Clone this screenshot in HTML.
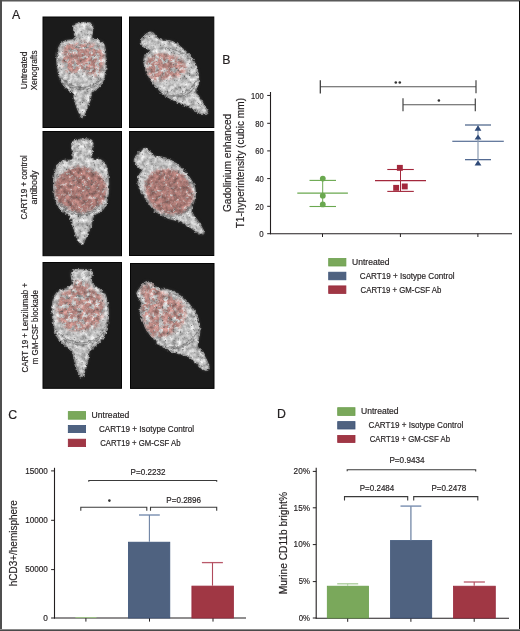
<!DOCTYPE html>
<html><head><meta charset="utf-8"><title>Figure</title>
<style>
html,body{margin:0;padding:0;background:#fff;}
body{width:520px;height:631px;overflow:hidden;}
svg{display:block;font-family:"Liberation Sans", sans-serif;will-change:transform;}
text{stroke:#231f20;stroke-width:0.18px;}
</style></head><body>
<svg width="520" height="631" viewBox="0 0 520 631">
<rect x="0" y="0" width="520" height="631" fill="#fff"/>
<defs>
<clipPath id="cpA">
<rect x="43.5" y="17.5" width="77.5" height="109.5"/><rect x="130" y="17.5" width="83.3" height="109.5"/>
<rect x="43.5" y="132" width="77.5" height="123.2"/><rect x="130" y="132" width="83.3" height="123"/>
<rect x="43.5" y="263" width="77.5" height="124.8"/><rect x="131" y="264" width="82.5" height="123.9"/>
</clipPath>
<filter color-interpolation-filters="sRGB" id="fin" x="-10%" y="-10%" width="120%" height="120%"><feGaussianBlur stdDeviation="0.6"/></filter>
<filter color-interpolation-filters="sRGB" id="halo" x="-20%" y="-20%" width="140%" height="140%"><feGaussianBlur stdDeviation="1.6"/></filter>
<filter color-interpolation-filters="sRGB" id="m1" x="-20%" y="-20%" width="140%" height="140%">
<feTurbulence type="fractalNoise" baseFrequency="0.22" numOctaves="3" seed="11" result="n"/>
<feColorMatrix in="n" type="matrix" values="0 0 0 0 0  0 0 0 0 0  0 0 0 0 0  -5 0 0 0 3.3" result="m"/>
<feGaussianBlur in="m" stdDeviation="0.5" result="mb"/>
<feGaussianBlur in="SourceGraphic" stdDeviation="1.5" result="b"/>
<feComposite in="b" in2="mb" operator="in"/>
</filter>
<filter color-interpolation-filters="sRGB" id="m2" x="-20%" y="-20%" width="140%" height="140%">
<feTurbulence type="fractalNoise" baseFrequency="0.3" numOctaves="3" seed="5" result="n"/>
<feColorMatrix in="n" type="matrix" values="0 0 0 0 0  0 0 0 0 0  0 0 0 0 0  -4 0 0 0 3.3" result="m"/>
<feGaussianBlur in="m" stdDeviation="0.5" result="mb"/>
<feGaussianBlur in="SourceGraphic" stdDeviation="1.3" result="b"/>
<feComposite in="b" in2="mb" operator="in"/>
</filter>
<filter color-interpolation-filters="sRGB" id="rough" x="-10%" y="-10%" width="120%" height="120%">
<feTurbulence type="fractalNoise" baseFrequency="0.35" numOctaves="2" seed="4" result="dn"/>
<feDisplacementMap in="SourceGraphic" in2="dn" scale="3.5" xChannelSelector="R" yChannelSelector="G" result="d"/>
<feTurbulence type="fractalNoise" baseFrequency="0.45" numOctaves="2" seed="9" result="n"/>
<feColorMatrix in="n" type="matrix" values="0 0 0 0 0.4  0 0 0 0 0.4  0 0 0 0 0.4  4.5 0 0 0 -2.95" result="sp"/>
<feComposite in="sp" in2="d" operator="in" result="sp2"/>
<feMerge result="mg"><feMergeNode in="d"/><feMergeNode in="sp2"/></feMerge>
<feTurbulence type="fractalNoise" baseFrequency="0.22" numOctaves="3" seed="21" result="g"/>
<feColorMatrix in="g" type="matrix" values="1 0 0 0 0  1 0 0 0 0  1 0 0 0 0  0 0 0 0 1" result="g2"/>
<feComposite in="mg" in2="g2" operator="arithmetic" k1="0.8" k2="0.6" k3="0" k4="0" result="gm"/>
<feComposite in="gm" in2="mg" operator="in"/>
</filter>
</defs>
<text x="12.0" y="18.7" font-size="12.3" fill="#231f20" text-anchor="start" >A</text>
<rect x="43.0" y="17.0" width="78.5" height="110.5" fill="#1b1b1b" stroke="#050505" stroke-width="1"/>
<rect x="129.5" y="17.0" width="84.30000000000001" height="110.5" fill="#1b1b1b" stroke="#050505" stroke-width="1"/>
<rect x="43.0" y="131.5" width="78.5" height="124.19999999999999" fill="#1b1b1b" stroke="#050505" stroke-width="1"/>
<rect x="129.5" y="131.5" width="84.30000000000001" height="124" fill="#1b1b1b" stroke="#050505" stroke-width="1"/>
<rect x="43.0" y="262.5" width="78.5" height="125.80000000000001" fill="#1b1b1b" stroke="#050505" stroke-width="1"/>
<rect x="130.5" y="263.5" width="83.5" height="124.89999999999998" fill="#1b1b1b" stroke="#050505" stroke-width="1"/>
<g clip-path="url(#cpA)">
<path d="M74.6,24.5 C77.5,22.1 89.0,21.6 91.9,23.8 C94.8,26.0 90.8,34.9 91.9,37.7 C93.1,40.5 96.8,39.4 98.8,40.5 C100.8,41.6 102.8,42.2 104.0,44.6 C105.2,47.0 105.5,51.0 105.8,55.0 C106.1,59.0 106.3,64.5 105.8,68.8 C105.3,73.1 104.5,77.7 103.0,81.0 C101.5,84.3 98.9,87.0 97.1,88.9 C95.2,90.8 93.1,90.6 91.9,92.4 C90.8,94.2 91.2,97.0 90.2,100.0 C89.2,103.0 87.3,107.4 86.0,110.4 C84.7,113.4 83.5,118.0 82.2,118.0 C80.9,118.0 79.4,113.4 78.1,110.4 C76.8,107.4 75.5,103.0 74.6,100.0 C73.7,97.0 74.3,94.4 72.9,92.4 C71.5,90.4 68.1,90.1 66.0,87.9 C63.9,85.7 61.6,82.7 60.1,79.2 C58.6,75.7 57.8,71.4 57.3,67.1 C56.8,62.8 56.8,57.0 57.3,53.3 C57.8,49.5 58.6,46.7 60.1,44.6 C61.6,42.5 63.6,41.5 66.0,40.5 C68.4,39.5 73.2,41.1 74.6,38.4 C76.0,35.7 71.7,26.9 74.6,24.5 Z" fill="#4a4a4a" filter="url(#halo)"/>
<g filter="url(#fin)"><g filter="url(#rough)"><path d="M74.6,24.5 C77.5,22.1 89.0,21.6 91.9,23.8 C94.8,26.0 90.8,34.9 91.9,37.7 C93.1,40.5 96.8,39.4 98.8,40.5 C100.8,41.6 102.8,42.2 104.0,44.6 C105.2,47.0 105.5,51.0 105.8,55.0 C106.1,59.0 106.3,64.5 105.8,68.8 C105.3,73.1 104.5,77.7 103.0,81.0 C101.5,84.3 98.9,87.0 97.1,88.9 C95.2,90.8 93.1,90.6 91.9,92.4 C90.8,94.2 91.2,97.0 90.2,100.0 C89.2,103.0 87.3,107.4 86.0,110.4 C84.7,113.4 83.5,118.0 82.2,118.0 C80.9,118.0 79.4,113.4 78.1,110.4 C76.8,107.4 75.5,103.0 74.6,100.0 C73.7,97.0 74.3,94.4 72.9,92.4 C71.5,90.4 68.1,90.1 66.0,87.9 C63.9,85.7 61.6,82.7 60.1,79.2 C58.6,75.7 57.8,71.4 57.3,67.1 C56.8,62.8 56.8,57.0 57.3,53.3 C57.8,49.5 58.6,46.7 60.1,44.6 C61.6,42.5 63.6,41.5 66.0,40.5 C68.4,39.5 73.2,41.1 74.6,38.4 C76.0,35.7 71.7,26.9 74.6,24.5 Z" fill="#c3c3c3" stroke="#8c8c8c" stroke-width="1.6"/><path d="M61,78 Q82,97 103,78" fill="none" stroke="#7a7a7a" stroke-width="1.3" opacity="0.75"/><path d="M66,84 Q82,95 98,84" fill="none" stroke="#7a7a7a" stroke-width="1.3" opacity="0.75"/><path d="M70,50 Q82,44 95,50" fill="none" stroke="#7a7a7a" stroke-width="1.3" opacity="0.75"/><path d="M66.0,44.0 C67.8,42.7 71.7,44.5 74.0,44.0 C76.3,43.5 77.7,41.2 80.0,41.0 C82.3,40.8 85.3,42.3 88.0,43.0 C90.7,43.7 93.7,43.7 96.0,45.0 C98.3,46.3 100.7,48.5 102.0,51.0 C103.3,53.5 104.0,57.2 104.0,60.0 C104.0,62.8 103.0,65.3 102.0,68.0 C101.0,70.7 100.0,75.0 98.0,76.0 C96.0,77.0 92.7,75.0 90.0,74.0 C87.3,73.0 84.7,70.2 82.0,70.0 C79.3,69.8 76.7,72.8 74.0,73.0 C71.3,73.2 67.9,72.8 66.0,71.0 C64.1,69.2 63.0,65.2 62.5,62.0 C62.0,58.8 62.4,55.0 63.0,52.0 C63.6,49.0 64.2,45.3 66.0,44.0 Z" fill="#b5807a" opacity="0.9" filter="url(#m1)"/></g></g>
<path d="M152.5,32.5 C154.7,33.4 156.2,37.9 159.4,39.4 C162.6,40.9 167.8,39.8 171.5,41.2 C175.2,42.7 178.4,45.2 181.9,48.1 C185.4,51.0 189.7,54.8 192.3,58.5 C194.9,62.2 196.5,66.6 197.5,70.6 C198.5,74.6 198.8,79.2 198.5,82.7 C198.2,86.2 195.4,88.4 195.8,91.3 C196.2,94.2 199.3,97.1 201.0,100.0 C202.7,102.9 204.9,106.4 206.1,108.6 C207.2,110.8 208.8,112.2 207.9,113.1 C207.1,114.0 204.2,114.8 201.0,113.8 C197.8,112.8 192.9,108.9 188.8,106.9 C184.8,104.9 180.7,103.7 176.7,101.7 C172.7,99.7 168.3,97.7 164.6,94.8 C160.8,91.9 157.1,87.9 154.2,84.4 C151.3,80.9 149.0,77.8 147.3,74.0 C145.6,70.2 144.2,65.0 143.8,61.9 C143.5,58.8 144.2,57.3 145.2,55.5 C146.2,53.7 150.4,52.6 150.0,51.0 C149.6,49.4 144.2,47.8 142.8,46.0 C141.4,44.2 141.0,42.0 141.6,40.0 C142.2,38.0 144.7,35.0 146.5,33.8 C148.3,32.5 150.3,31.6 152.5,32.5 Z" fill="#4a4a4a" filter="url(#halo)"/>
<g filter="url(#fin)"><g filter="url(#rough)"><path d="M152.5,32.5 C154.7,33.4 156.2,37.9 159.4,39.4 C162.6,40.9 167.8,39.8 171.5,41.2 C175.2,42.7 178.4,45.2 181.9,48.1 C185.4,51.0 189.7,54.8 192.3,58.5 C194.9,62.2 196.5,66.6 197.5,70.6 C198.5,74.6 198.8,79.2 198.5,82.7 C198.2,86.2 195.4,88.4 195.8,91.3 C196.2,94.2 199.3,97.1 201.0,100.0 C202.7,102.9 204.9,106.4 206.1,108.6 C207.2,110.8 208.8,112.2 207.9,113.1 C207.1,114.0 204.2,114.8 201.0,113.8 C197.8,112.8 192.9,108.9 188.8,106.9 C184.8,104.9 180.7,103.7 176.7,101.7 C172.7,99.7 168.3,97.7 164.6,94.8 C160.8,91.9 157.1,87.9 154.2,84.4 C151.3,80.9 149.0,77.8 147.3,74.0 C145.6,70.2 144.2,65.0 143.8,61.9 C143.5,58.8 144.2,57.3 145.2,55.5 C146.2,53.7 150.4,52.6 150.0,51.0 C149.6,49.4 144.2,47.8 142.8,46.0 C141.4,44.2 141.0,42.0 141.6,40.0 C142.2,38.0 144.7,35.0 146.5,33.8 C148.3,32.5 150.3,31.6 152.5,32.5 Z" fill="#c3c3c3" stroke="#8c8c8c" stroke-width="1.6"/><path d="M158,93 Q184,102 197,80" fill="none" stroke="#7a7a7a" stroke-width="1.3" opacity="0.75"/><path d="M164,96 Q186,100 194,88" fill="none" stroke="#7a7a7a" stroke-width="1.3" opacity="0.75"/><path d="M165,48 Q185,50 192,62" fill="none" stroke="#7a7a7a" stroke-width="1.3" opacity="0.75"/><path d="M150.0,57.0 C152.2,55.5 156.3,53.3 160.0,53.0 C163.7,52.7 168.3,53.8 172.0,55.0 C175.7,56.2 179.7,58.0 182.0,60.0 C184.3,62.0 185.7,64.7 186.0,67.0 C186.3,69.3 185.7,72.3 184.0,74.0 C182.3,75.7 179.0,76.2 176.0,77.0 C173.0,77.8 169.2,78.3 166.0,79.0 C162.8,79.7 159.7,81.2 157.0,81.0 C154.3,80.8 151.7,79.8 150.0,78.0 C148.3,76.2 147.5,72.7 147.0,70.0 C146.5,67.3 146.5,64.2 147.0,62.0 C147.5,59.8 147.8,58.5 150.0,57.0 Z" fill="#b5807a" opacity="0.9" filter="url(#m1)"/></g></g>
<path d="M72.9,141.6 C76.1,138.5 88.7,137.9 91.9,140.6 C95.1,143.3 90.5,154.7 91.9,157.9 C93.4,161.1 98.3,158.4 100.6,159.6 C102.9,160.8 104.5,161.9 105.8,164.8 C107.1,167.7 107.8,172.6 108.2,176.9 C108.7,181.2 108.9,186.2 108.5,190.8 C108.1,195.4 107.1,201.2 105.8,204.6 C104.5,208.0 102.6,209.7 100.6,211.5 C98.6,213.3 95.3,213.4 93.7,215.7 C92.1,218.0 92.4,222.1 91.2,225.4 C90.0,228.8 88.3,232.6 86.7,235.8 C85.1,239.0 83.2,244.4 81.5,244.4 C79.8,244.4 77.7,239.0 76.3,235.8 C74.9,232.6 74.1,228.8 72.9,225.4 C71.8,222.1 71.4,218.3 69.4,215.7 C67.4,213.1 63.1,212.5 60.8,209.8 C58.5,207.1 56.8,203.2 55.6,199.4 C54.4,195.7 54.0,191.6 53.8,187.3 C53.6,183.0 53.9,177.2 54.5,173.5 C55.1,169.8 55.7,167.0 57.3,164.8 C58.9,162.6 61.6,161.3 64.2,160.3 C66.8,159.3 71.5,162.0 72.9,158.9 C74.4,155.8 69.7,144.7 72.9,141.6 Z" fill="#4a4a4a" filter="url(#halo)"/>
<g filter="url(#fin)"><g filter="url(#rough)"><path d="M72.9,141.6 C76.1,138.5 88.7,137.9 91.9,140.6 C95.1,143.3 90.5,154.7 91.9,157.9 C93.4,161.1 98.3,158.4 100.6,159.6 C102.9,160.8 104.5,161.9 105.8,164.8 C107.1,167.7 107.8,172.6 108.2,176.9 C108.7,181.2 108.9,186.2 108.5,190.8 C108.1,195.4 107.1,201.2 105.8,204.6 C104.5,208.0 102.6,209.7 100.6,211.5 C98.6,213.3 95.3,213.4 93.7,215.7 C92.1,218.0 92.4,222.1 91.2,225.4 C90.0,228.8 88.3,232.6 86.7,235.8 C85.1,239.0 83.2,244.4 81.5,244.4 C79.8,244.4 77.7,239.0 76.3,235.8 C74.9,232.6 74.1,228.8 72.9,225.4 C71.8,222.1 71.4,218.3 69.4,215.7 C67.4,213.1 63.1,212.5 60.8,209.8 C58.5,207.1 56.8,203.2 55.6,199.4 C54.4,195.7 54.0,191.6 53.8,187.3 C53.6,183.0 53.9,177.2 54.5,173.5 C55.1,169.8 55.7,167.0 57.3,164.8 C58.9,162.6 61.6,161.3 64.2,160.3 C66.8,159.3 71.5,162.0 72.9,158.9 C74.4,155.8 69.7,144.7 72.9,141.6 Z" fill="#c3c3c3" stroke="#8c8c8c" stroke-width="1.6"/><path d="M58,203 Q81,223 104,203" fill="none" stroke="#7a7a7a" stroke-width="1.3" opacity="0.75"/><path d="M63,209 Q81,221 99,209" fill="none" stroke="#7a7a7a" stroke-width="1.3" opacity="0.75"/><path d="M106.2,189.4 C106.2,192.8 106.0,196.6 104.4,199.5 C102.7,202.4 99.3,204.7 96.3,206.7 C93.3,208.8 90.0,211.1 86.5,211.9 C82.9,212.7 78.6,212.3 75.0,211.4 C71.5,210.5 68.2,208.5 65.3,206.5 C62.3,204.5 58.9,202.3 57.3,199.4 C55.6,196.5 55.2,192.8 55.2,189.4 C55.2,186.0 55.4,182.2 57.0,179.3 C58.7,176.4 62.1,174.1 65.1,172.1 C68.1,170.0 71.4,167.7 74.9,166.9 C78.5,166.1 82.8,166.5 86.4,167.4 C89.9,168.3 93.2,170.3 96.1,172.3 C99.1,174.3 102.5,176.5 104.1,179.4 C105.8,182.3 106.2,186.0 106.2,189.4 Z" fill="#a46f6a" opacity="0.9" filter="url(#m2)"/></g></g>
<path d="M145.8,148.3 C148.4,148.7 151.2,154.3 154.1,155.8 C157.0,157.3 160.1,156.5 163.3,157.5 C166.5,158.5 170.2,159.8 173.3,161.6 C176.4,163.4 178.8,165.5 181.6,168.3 C184.4,171.1 187.7,175.0 189.9,178.3 C192.1,181.6 194.1,185.0 194.9,188.3 C195.7,191.6 195.5,194.9 194.9,198.2 C194.3,201.5 191.9,205.4 191.6,208.2 C191.3,211.0 192.1,212.7 193.2,214.9 C194.3,217.1 196.4,218.6 198.2,221.5 C200.0,224.4 203.7,230.2 204.0,232.3 C204.3,234.4 202.0,234.7 199.9,234.0 C197.8,233.3 194.9,230.3 191.6,228.2 C188.3,226.1 183.8,223.2 179.9,221.5 C176.0,219.8 171.9,219.6 168.3,218.2 C164.7,216.8 161.4,215.4 158.3,213.2 C155.2,211.0 152.5,207.9 150.0,204.9 C147.5,201.9 145.2,198.2 143.3,194.9 C141.4,191.6 139.1,188.0 138.3,184.9 C137.5,181.8 137.8,178.9 138.3,176.6 C138.9,174.2 141.9,172.7 141.6,170.8 C141.3,168.9 137.9,166.8 136.7,165.0 C135.5,163.2 133.9,161.9 134.2,160.0 C134.5,158.1 136.4,155.2 138.3,153.3 C140.2,151.4 143.2,147.9 145.8,148.3 Z" fill="#4a4a4a" filter="url(#halo)"/>
<g filter="url(#fin)"><g filter="url(#rough)"><path d="M145.8,148.3 C148.4,148.7 151.2,154.3 154.1,155.8 C157.0,157.3 160.1,156.5 163.3,157.5 C166.5,158.5 170.2,159.8 173.3,161.6 C176.4,163.4 178.8,165.5 181.6,168.3 C184.4,171.1 187.7,175.0 189.9,178.3 C192.1,181.6 194.1,185.0 194.9,188.3 C195.7,191.6 195.5,194.9 194.9,198.2 C194.3,201.5 191.9,205.4 191.6,208.2 C191.3,211.0 192.1,212.7 193.2,214.9 C194.3,217.1 196.4,218.6 198.2,221.5 C200.0,224.4 203.7,230.2 204.0,232.3 C204.3,234.4 202.0,234.7 199.9,234.0 C197.8,233.3 194.9,230.3 191.6,228.2 C188.3,226.1 183.8,223.2 179.9,221.5 C176.0,219.8 171.9,219.6 168.3,218.2 C164.7,216.8 161.4,215.4 158.3,213.2 C155.2,211.0 152.5,207.9 150.0,204.9 C147.5,201.9 145.2,198.2 143.3,194.9 C141.4,191.6 139.1,188.0 138.3,184.9 C137.5,181.8 137.8,178.9 138.3,176.6 C138.9,174.2 141.9,172.7 141.6,170.8 C141.3,168.9 137.9,166.8 136.7,165.0 C135.5,163.2 133.9,161.9 134.2,160.0 C134.5,158.1 136.4,155.2 138.3,153.3 C140.2,151.4 143.2,147.9 145.8,148.3 Z" fill="#c3c3c3" stroke="#8c8c8c" stroke-width="1.6"/><path d="M153,211 Q181,223 195,200" fill="none" stroke="#7a7a7a" stroke-width="1.3" opacity="0.75"/><path d="M160,215 Q183,220 192,206" fill="none" stroke="#7a7a7a" stroke-width="1.3" opacity="0.75"/><path d="M189.5,205.9 C187.7,208.6 185.4,211.5 182.5,212.8 C179.6,214.1 175.5,214.0 172.0,213.9 C168.5,213.9 164.6,213.8 161.3,212.4 C158.1,211.1 154.7,208.3 152.4,205.7 C150.0,203.0 148.5,199.6 147.2,196.3 C145.9,193.1 144.5,189.4 144.7,186.3 C144.9,183.1 146.7,179.9 148.5,177.3 C150.3,174.6 152.6,171.7 155.5,170.4 C158.4,169.1 162.5,169.2 166.0,169.3 C169.5,169.3 173.4,169.4 176.7,170.8 C179.9,172.1 183.3,174.9 185.6,177.5 C188.0,180.2 189.5,183.6 190.8,186.9 C192.1,190.1 193.5,193.8 193.3,196.9 C193.1,200.1 191.3,203.3 189.5,205.9 Z" fill="#a46f6a" opacity="0.9" filter="url(#m2)"/></g></g>
<path d="M72.2,271.1 C75.4,268.9 88.2,269.2 91.4,271.1 C94.6,273.0 89.9,279.0 91.4,282.2 C92.9,285.4 98.1,288.0 100.4,290.2 C102.8,292.4 104.2,291.5 105.5,295.2 C106.8,298.9 108.3,306.8 108.5,312.4 C108.7,317.9 107.5,324.1 106.5,328.5 C105.5,332.9 104.5,335.6 102.5,338.6 C100.5,341.6 96.6,344.6 94.4,346.6 C92.2,348.6 90.6,348.0 89.4,350.7 C88.2,353.4 88.7,358.3 87.3,362.8 C85.9,367.3 83.3,377.9 81.3,377.9 C79.3,377.9 76.7,367.2 75.2,362.8 C73.7,358.4 74.0,354.7 72.2,351.7 C70.4,348.7 66.7,347.1 64.2,344.6 C61.7,342.1 58.8,339.6 57.1,336.6 C55.4,333.6 54.9,330.5 54.1,326.5 C53.3,322.5 52.3,316.8 52.1,312.4 C51.9,308.0 52.3,303.7 53.1,300.3 C53.9,296.9 55.2,294.1 57.1,292.2 C59.0,290.3 61.7,290.5 64.2,289.2 C66.7,287.9 70.9,287.2 72.2,284.2 C73.5,281.2 69.0,273.3 72.2,271.1 Z" fill="#4a4a4a" filter="url(#halo)"/>
<g filter="url(#fin)"><g filter="url(#rough)"><path d="M72.2,271.1 C75.4,268.9 88.2,269.2 91.4,271.1 C94.6,273.0 89.9,279.0 91.4,282.2 C92.9,285.4 98.1,288.0 100.4,290.2 C102.8,292.4 104.2,291.5 105.5,295.2 C106.8,298.9 108.3,306.8 108.5,312.4 C108.7,317.9 107.5,324.1 106.5,328.5 C105.5,332.9 104.5,335.6 102.5,338.6 C100.5,341.6 96.6,344.6 94.4,346.6 C92.2,348.6 90.6,348.0 89.4,350.7 C88.2,353.4 88.7,358.3 87.3,362.8 C85.9,367.3 83.3,377.9 81.3,377.9 C79.3,377.9 76.7,367.2 75.2,362.8 C73.7,358.4 74.0,354.7 72.2,351.7 C70.4,348.7 66.7,347.1 64.2,344.6 C61.7,342.1 58.8,339.6 57.1,336.6 C55.4,333.6 54.9,330.5 54.1,326.5 C53.3,322.5 52.3,316.8 52.1,312.4 C51.9,308.0 52.3,303.7 53.1,300.3 C53.9,296.9 55.2,294.1 57.1,292.2 C59.0,290.3 61.7,290.5 64.2,289.2 C66.7,287.9 70.9,287.2 72.2,284.2 C73.5,281.2 69.0,273.3 72.2,271.1 Z" fill="#c3c3c3" stroke="#8c8c8c" stroke-width="1.6"/><path d="M58,333 Q81,353 104,333" fill="none" stroke="#7a7a7a" stroke-width="1.3" opacity="0.75"/><path d="M63,339 Q81,351 99,339" fill="none" stroke="#7a7a7a" stroke-width="1.3" opacity="0.75"/><path d="M62,300 Q80,292 100,300" fill="none" stroke="#7a7a7a" stroke-width="1.3" opacity="0.75"/><path d="M76.0,281.5 C78.3,280.3 83.3,280.8 86.0,282.0 C88.7,283.2 89.7,287.0 92.0,289.0 C94.3,291.0 98.1,291.3 100.0,294.0 C101.9,296.7 103.2,301.0 103.5,305.0 C103.8,309.0 103.2,314.3 102.0,318.0 C100.8,321.7 98.7,325.0 96.0,327.0 C93.3,329.0 89.7,329.3 86.0,330.0 C82.3,330.7 77.7,331.5 74.0,331.0 C70.3,330.5 66.7,329.2 64.0,327.0 C61.3,324.8 59.1,321.8 58.0,318.0 C56.9,314.2 56.8,308.2 57.5,304.0 C58.2,299.8 59.6,295.5 62.0,293.0 C64.4,290.5 69.7,290.9 72.0,289.0 C74.3,287.1 73.7,282.7 76.0,281.5 Z" fill="#b5807a" opacity="0.9" filter="url(#m1)"/></g></g>
<path d="M146.6,281.6 C149.5,280.8 152.6,285.4 155.0,286.6 C157.4,287.9 158.3,288.5 160.8,289.1 C163.3,289.7 166.7,289.0 169.9,290.0 C173.1,291.0 176.9,292.8 179.9,295.0 C182.9,297.2 185.7,300.5 188.2,303.3 C190.7,306.1 193.2,308.8 194.9,311.6 C196.6,314.4 197.4,316.8 198.2,319.9 C199.0,322.9 199.9,326.6 199.9,329.9 C199.9,333.2 198.6,337.1 198.2,339.9 C197.8,342.7 196.8,344.6 197.4,346.5 C198.0,348.4 200.0,349.3 201.5,351.5 C203.0,353.7 205.2,357.0 206.5,359.9 C207.8,362.8 209.6,367.4 209.0,369.0 C208.4,370.6 205.3,370.8 203.2,369.8 C201.1,368.8 199.1,365.4 196.6,363.2 C194.1,361.0 191.2,358.2 188.2,356.5 C185.1,354.8 181.6,354.3 178.3,353.2 C175.0,352.1 171.4,351.3 168.3,349.9 C165.2,348.5 162.5,346.8 160.0,344.9 C157.5,342.9 155.5,340.7 153.3,338.2 C151.1,335.7 148.4,332.9 146.6,329.9 C144.8,326.8 143.6,322.9 142.5,319.9 C141.4,316.8 140.2,314.4 140.0,311.6 C139.8,308.8 141.6,305.2 141.6,303.3 C141.6,301.4 140.7,301.4 140.0,300.0 C139.3,298.6 137.9,296.4 137.5,295.0 C137.1,293.6 136.0,293.8 137.5,291.6 C139.0,289.4 143.7,282.4 146.6,281.6 Z" fill="#4a4a4a" filter="url(#halo)"/>
<g filter="url(#fin)"><g filter="url(#rough)"><path d="M146.6,281.6 C149.5,280.8 152.6,285.4 155.0,286.6 C157.4,287.9 158.3,288.5 160.8,289.1 C163.3,289.7 166.7,289.0 169.9,290.0 C173.1,291.0 176.9,292.8 179.9,295.0 C182.9,297.2 185.7,300.5 188.2,303.3 C190.7,306.1 193.2,308.8 194.9,311.6 C196.6,314.4 197.4,316.8 198.2,319.9 C199.0,322.9 199.9,326.6 199.9,329.9 C199.9,333.2 198.6,337.1 198.2,339.9 C197.8,342.7 196.8,344.6 197.4,346.5 C198.0,348.4 200.0,349.3 201.5,351.5 C203.0,353.7 205.2,357.0 206.5,359.9 C207.8,362.8 209.6,367.4 209.0,369.0 C208.4,370.6 205.3,370.8 203.2,369.8 C201.1,368.8 199.1,365.4 196.6,363.2 C194.1,361.0 191.2,358.2 188.2,356.5 C185.1,354.8 181.6,354.3 178.3,353.2 C175.0,352.1 171.4,351.3 168.3,349.9 C165.2,348.5 162.5,346.8 160.0,344.9 C157.5,342.9 155.5,340.7 153.3,338.2 C151.1,335.7 148.4,332.9 146.6,329.9 C144.8,326.8 143.6,322.9 142.5,319.9 C141.4,316.8 140.2,314.4 140.0,311.6 C139.8,308.8 141.6,305.2 141.6,303.3 C141.6,301.4 140.7,301.4 140.0,300.0 C139.3,298.6 137.9,296.4 137.5,295.0 C137.1,293.6 136.0,293.8 137.5,291.6 C139.0,289.4 143.7,282.4 146.6,281.6 Z" fill="#c3c3c3" stroke="#8c8c8c" stroke-width="1.6"/><path d="M156,344 Q184,354 198,331" fill="none" stroke="#7a7a7a" stroke-width="1.3" opacity="0.75"/><path d="M163,347 Q185,352 195,338" fill="none" stroke="#7a7a7a" stroke-width="1.3" opacity="0.75"/><path d="M168,292 Q186,297 193,309" fill="none" stroke="#7a7a7a" stroke-width="1.3" opacity="0.75"/><path d="M147.0,284.0 C149.3,283.7 152.5,285.7 155.0,287.0 C157.5,288.3 159.2,290.5 162.0,292.0 C164.8,293.5 168.7,294.2 172.0,296.0 C175.3,297.8 179.7,300.3 182.0,303.0 C184.3,305.7 185.7,308.8 186.0,312.0 C186.3,315.2 185.7,319.0 184.0,322.0 C182.3,325.0 179.0,327.7 176.0,330.0 C173.0,332.3 169.3,334.7 166.0,336.0 C162.7,337.3 159.0,338.7 156.0,338.0 C153.0,337.3 150.0,335.0 148.0,332.0 C146.0,329.0 145.0,324.0 144.0,320.0 C143.0,316.0 142.3,312.0 142.0,308.0 C141.7,304.0 142.2,299.2 142.0,296.0 C141.8,292.8 140.2,291.0 141.0,289.0 C141.8,287.0 144.7,284.3 147.0,284.0 Z" fill="#b5807a" opacity="0.9" filter="url(#m1)"/></g></g>
</g>
<text transform="translate(27.3,89.2) rotate(-90)" x="0" y="0" font-size="8.8" fill="#231f20" textLength="37.6" lengthAdjust="spacingAndGlyphs">Untreated</text>
<text transform="translate(36.9,90.3) rotate(-90)" x="0" y="0" font-size="8.8" fill="#231f20" textLength="39.8" lengthAdjust="spacingAndGlyphs">Xenografts</text>
<text transform="translate(26.6,219.6) rotate(-90)" x="0" y="0" font-size="8.8" fill="#231f20" textLength="64.3" lengthAdjust="spacingAndGlyphs">CART19 + control</text>
<text transform="translate(36.8,204.6) rotate(-90)" x="0" y="0" font-size="8.8" fill="#231f20" textLength="34.0" lengthAdjust="spacingAndGlyphs">antibody</text>
<text transform="translate(27.5,372.5) rotate(-90)" x="0" y="0" font-size="8.8" fill="#231f20" textLength="89.6" lengthAdjust="spacingAndGlyphs">CART 19 + Lenzilumab +</text>
<text transform="translate(37.8,364.3) rotate(-90)" x="0" y="0" font-size="8.8" fill="#231f20" textLength="74.1" lengthAdjust="spacingAndGlyphs">m GM-CSF blockade</text>
<text x="222.2" y="63.75" font-size="12.3" fill="#231f20" text-anchor="start" >B</text>
<line x1="270.5" y1="92" x2="270.5" y2="234.2" stroke="#231f20" stroke-width="1.1" />
<line x1="270" y1="233.7" x2="512" y2="233.7" stroke="#231f20" stroke-width="1.1" />
<line x1="267.2" y1="95.45" x2="270.5" y2="95.45" stroke="#231f20" stroke-width="1" />
<text x="251.00000000000003" y="98.95" font-size="9.0" fill="#231f20" text-anchor="start" textLength="12.6" lengthAdjust="spacingAndGlyphs" >100</text>
<line x1="267.2" y1="123.3" x2="270.5" y2="123.3" stroke="#231f20" stroke-width="1" />
<text x="255.20000000000002" y="126.8" font-size="9.0" fill="#231f20" text-anchor="start" textLength="8.4" lengthAdjust="spacingAndGlyphs" >80</text>
<line x1="267.2" y1="150.9" x2="270.5" y2="150.9" stroke="#231f20" stroke-width="1" />
<text x="255.20000000000002" y="154.4" font-size="9.0" fill="#231f20" text-anchor="start" textLength="8.4" lengthAdjust="spacingAndGlyphs" >60</text>
<line x1="267.2" y1="178.6" x2="270.5" y2="178.6" stroke="#231f20" stroke-width="1" />
<text x="255.20000000000002" y="182.1" font-size="9.0" fill="#231f20" text-anchor="start" textLength="8.4" lengthAdjust="spacingAndGlyphs" >40</text>
<line x1="267.2" y1="206.3" x2="270.5" y2="206.3" stroke="#231f20" stroke-width="1" />
<text x="255.20000000000002" y="209.8" font-size="9.0" fill="#231f20" text-anchor="start" textLength="8.4" lengthAdjust="spacingAndGlyphs" >20</text>
<line x1="267.2" y1="233.7" x2="270.5" y2="233.7" stroke="#231f20" stroke-width="1" />
<text x="259.20000000000005" y="237.2" font-size="9.0" fill="#231f20" text-anchor="start" textLength="4.4" lengthAdjust="spacingAndGlyphs" >0</text>
<line x1="322.5" y1="233.7" x2="322.5" y2="237" stroke="#231f20" stroke-width="1" />
<line x1="400.4" y1="233.7" x2="400.4" y2="237" stroke="#231f20" stroke-width="1" />
<line x1="477.9" y1="233.7" x2="477.9" y2="237" stroke="#231f20" stroke-width="1" />
<text transform="translate(231.0,212.0) rotate(-90)" x="0" y="0" font-size="10.6" fill="#231f20" textLength="98.2" lengthAdjust="spacingAndGlyphs">Gadolinium enhanced</text>
<text transform="translate(244.0,228.3) rotate(-90)" x="0" y="0" font-size="10.6" fill="#231f20" textLength="130.3" lengthAdjust="spacingAndGlyphs">T1-hyperintensity (cubic mm)</text>
<line x1="297.3" y1="193.1" x2="347.9" y2="193.1" stroke="#6aa84f" stroke-width="1.1" />
<line x1="309.5" y1="180.4" x2="336" y2="180.4" stroke="#6aa84f" stroke-width="1.1" />
<line x1="309.5" y1="206.5" x2="336" y2="206.5" stroke="#6aa84f" stroke-width="1.1" />
<line x1="322.7" y1="180.4" x2="322.7" y2="206.5" stroke="#6aa84f" stroke-width="1.0" />
<circle cx="322.8" cy="178.6" r="2.9" fill="#6aa84f"/>
<circle cx="322.8" cy="195.7" r="2.9" fill="#6aa84f"/>
<circle cx="322.8" cy="204.4" r="2.9" fill="#6aa84f"/>
<line x1="375" y1="180.6" x2="426" y2="180.6" stroke="#a3283c" stroke-width="1.1" />
<line x1="387.3" y1="169.5" x2="413.8" y2="169.5" stroke="#a3283c" stroke-width="1.1" />
<line x1="387.3" y1="191.4" x2="413.8" y2="191.4" stroke="#a3283c" stroke-width="1.1" />
<line x1="400.5" y1="169.5" x2="400.5" y2="191.4" stroke="#a3283c" stroke-width="1.0" />
<rect x="396.9" y="164.9" width="5.9" height="5.9" fill="#a3283c"/>
<rect x="393.2" y="184.9" width="5.9" height="5.9" fill="#a3283c"/>
<rect x="401.8" y="183.5" width="5.9" height="5.9" fill="#a3283c"/>
<line x1="452.3" y1="141.2" x2="503.8" y2="141.2" stroke="#34507f" stroke-width="1.1" />
<line x1="465" y1="125" x2="491" y2="125" stroke="#8495ae" stroke-width="1.8" />
<line x1="465" y1="159.7" x2="491" y2="159.7" stroke="#34507f" stroke-width="1.1" />
<line x1="478" y1="125" x2="478" y2="159.7" stroke="#8a9ab0" stroke-width="1.2" />
<path d="M478,125.2 L481.4,130.7 L474.6,130.7 Z" fill="#2f4a78"/>
<path d="M478,134.4 L481.4,139.6 L474.6,139.6 Z" fill="#2f4a78"/>
<path d="M478,160.3 L481.4,165.6 L474.6,165.6 Z" fill="#2f4a78"/>
<line x1="320.3" y1="86.7" x2="476" y2="86.7" stroke="#555" stroke-width="1.1" />
<line x1="320.3" y1="80.2" x2="320.3" y2="93.4" stroke="#333" stroke-width="1.2" />
<line x1="476" y1="80.2" x2="476" y2="93.3" stroke="#444" stroke-width="1.2" />
<line x1="403" y1="104.8" x2="475.3" y2="104.8" stroke="#555" stroke-width="1.1" />
<line x1="403" y1="98.2" x2="403" y2="111.3" stroke="#444" stroke-width="1.2" />
<line x1="475.3" y1="98.4" x2="475.3" y2="111.3" stroke="#444" stroke-width="1.2" />
<circle cx="395.8" cy="82.5" r="1.3" fill="#333"/><circle cx="399.8" cy="82.5" r="1.3" fill="#333"/>
<circle cx="438.9" cy="100.5" r="1.3" fill="#333"/>
<rect x="328.7" y="258.5" width="17.2" height="7.5" fill="#7aa85b" stroke="#6a9e4c" stroke-width="0.8"/>
<rect x="328.7" y="272.2" width="17.2" height="7.6" fill="#4f6280" stroke="#3d5478" stroke-width="0.8"/>
<rect x="328.7" y="285.9" width="17.2" height="7.5" fill="#a03744" stroke="#982a3c" stroke-width="0.8"/>
<text x="352.1" y="265.0" font-size="8.6" fill="#231f20" text-anchor="start" textLength="37.4" lengthAdjust="spacingAndGlyphs" >Untreated</text>
<text x="359.8" y="279.2" font-size="8.6" fill="#231f20" text-anchor="start" textLength="94.7" lengthAdjust="spacingAndGlyphs" >CART19 + Isotype Control</text>
<text x="360.6" y="292.6" font-size="8.6" fill="#231f20" text-anchor="start" textLength="80.8" lengthAdjust="spacingAndGlyphs" >CART19 + GM-CSF Ab</text>
<text x="8.2" y="418.75" font-size="12.3" fill="#231f20" text-anchor="start" >C</text>
<rect x="68.3" y="411.6" width="17.3" height="7.6" fill="#7aa85b" stroke="#6a9e4c" stroke-width="0.8"/>
<rect x="68.3" y="425.4" width="17.3" height="7.2" fill="#4f6280" stroke="#3d5478" stroke-width="0.8"/>
<rect x="68.3" y="439.2" width="17.3" height="7.4" fill="#a03744" stroke="#982a3c" stroke-width="0.8"/>
<text x="91.6" y="417.8" font-size="8.6" fill="#231f20" text-anchor="start" textLength="37.8" lengthAdjust="spacingAndGlyphs" >Untreated</text>
<text x="99.0" y="431.6" font-size="8.6" fill="#231f20" text-anchor="start" textLength="95.0" lengthAdjust="spacingAndGlyphs" >CART19 + Isotype Control</text>
<text x="100.2" y="445.5" font-size="8.6" fill="#231f20" text-anchor="start" textLength="80.4" lengthAdjust="spacingAndGlyphs" >CART19 + GM-CSF Ab</text>
<line x1="54.5" y1="467.8" x2="54.5" y2="618.5" stroke="#231f20" stroke-width="1.1" />
<line x1="54" y1="618" x2="246" y2="618" stroke="#231f20" stroke-width="1.1" />
<line x1="51.1" y1="470.9" x2="54.5" y2="470.9" stroke="#231f20" stroke-width="1" />
<text x="25.199999999999996" y="473.7" font-size="9.0" fill="#231f20" text-anchor="start" textLength="22.6" lengthAdjust="spacingAndGlyphs" >15000</text>
<line x1="51.1" y1="520.3" x2="54.5" y2="520.3" stroke="#231f20" stroke-width="1" />
<text x="25.199999999999996" y="523.0999999999999" font-size="9.0" fill="#231f20" text-anchor="start" textLength="22.6" lengthAdjust="spacingAndGlyphs" >10000</text>
<line x1="51.1" y1="569.6" x2="54.5" y2="569.6" stroke="#231f20" stroke-width="1" />
<text x="25.199999999999996" y="572.4" font-size="9.0" fill="#231f20" text-anchor="start" textLength="22.6" lengthAdjust="spacingAndGlyphs" >50000</text>
<line x1="51.1" y1="618" x2="54.5" y2="618" stroke="#231f20" stroke-width="1" />
<text x="43.199999999999996" y="620.8" font-size="9.0" fill="#231f20" text-anchor="start" textLength="4.6" lengthAdjust="spacingAndGlyphs" >0</text>
<line x1="85.9" y1="618" x2="85.9" y2="621.6" stroke="#231f20" stroke-width="1" />
<line x1="149.5" y1="618" x2="149.5" y2="621.6" stroke="#231f20" stroke-width="1" />
<line x1="213.0" y1="618" x2="213.0" y2="621.6" stroke="#231f20" stroke-width="1" />
<text transform="translate(17.0,586.3) rotate(-90)" x="0" y="0" font-size="10.6" fill="#231f20" textLength="86.2" lengthAdjust="spacingAndGlyphs">hCD3+/hemisphere</text>
<line x1="75.4" y1="617.6" x2="96.5" y2="617.6" stroke="#9cc486" stroke-width="1" />
<rect x="128.4" y="542.2" width="41.4" height="75.8" fill="#4f6280" stroke="#3d5478" stroke-width="0.8"/>
<rect x="191.9" y="586.1" width="41.5" height="31.9" fill="#a03744" stroke="#982a3c" stroke-width="0.8"/>
<line x1="139" y1="515" x2="159.8" y2="515" stroke="#8195b5" stroke-width="1.5" />
<line x1="149.4" y1="515" x2="149.4" y2="541.8" stroke="#6d82a3" stroke-width="1.1" />
<line x1="201.9" y1="562.6" x2="222.9" y2="562.6" stroke="#b9596a" stroke-width="1.3" />
<line x1="212.5" y1="562.6" x2="212.5" y2="585.7" stroke="#b04a5c" stroke-width="1.1" />
<path d="M88.8,481.7 L88.8,480.5 L216.7,480.5 L216.7,481.7" fill="none" stroke="#3a3a3a" stroke-width="1.1"/>
<path d="M80.8,510.8 L80.8,507.2 L146.8,507.2 L146.8,510.8" fill="none" stroke="#3a3a3a" stroke-width="1.1"/>
<path d="M150.5,510.8 L150.5,507.2 L216.7,507.2 L216.7,510.8" fill="none" stroke="#3a3a3a" stroke-width="1.1"/>
<text x="130.6" y="475.2" font-size="8.6" fill="#231f20" text-anchor="start" textLength="34.8" lengthAdjust="spacingAndGlyphs" >P=0.2232</text>
<text x="166.3" y="502.5" font-size="8.6" fill="#231f20" text-anchor="start" textLength="34.8" lengthAdjust="spacingAndGlyphs" >P=0.2896</text>
<circle cx="109.4" cy="500.6" r="1.3" fill="#333"/>
<text x="277.0" y="418.2" font-size="12.3" fill="#231f20" text-anchor="start" >D</text>
<rect x="337.7" y="407.7" width="17.3" height="7.7" fill="#7aa85b" stroke="#6a9e4c" stroke-width="0.8"/>
<rect x="337.7" y="421.6" width="17.3" height="7.4" fill="#4f6280" stroke="#3d5478" stroke-width="0.8"/>
<rect x="337.7" y="435.4" width="17.3" height="7.1" fill="#a03744" stroke="#982a3c" stroke-width="0.8"/>
<text x="361.0" y="414.2" font-size="8.6" fill="#231f20" text-anchor="start" textLength="37.6" lengthAdjust="spacingAndGlyphs" >Untreated</text>
<text x="368.6" y="428.0" font-size="8.6" fill="#231f20" text-anchor="start" textLength="94.6" lengthAdjust="spacingAndGlyphs" >CART19 + Isotype Control</text>
<text x="369.7" y="441.8" font-size="8.6" fill="#231f20" text-anchor="start" textLength="80.3" lengthAdjust="spacingAndGlyphs" >CART19 + GM-CSF Ab</text>
<line x1="316.2" y1="467.8" x2="316.2" y2="618.5" stroke="#231f20" stroke-width="1.1" />
<line x1="315.7" y1="618.2" x2="509" y2="618.2" stroke="#231f20" stroke-width="1.1" />
<line x1="312.8" y1="471.4" x2="316.2" y2="471.4" stroke="#231f20" stroke-width="1" />
<text x="293.6" y="474.2" font-size="9.0" fill="#231f20" text-anchor="start" textLength="16.4" lengthAdjust="spacingAndGlyphs" >20%</text>
<line x1="312.8" y1="507.8" x2="316.2" y2="507.8" stroke="#231f20" stroke-width="1" />
<text x="293.6" y="510.6" font-size="9.0" fill="#231f20" text-anchor="start" textLength="16.4" lengthAdjust="spacingAndGlyphs" >15%</text>
<line x1="312.8" y1="544.6" x2="316.2" y2="544.6" stroke="#231f20" stroke-width="1" />
<text x="293.6" y="547.4" font-size="9.0" fill="#231f20" text-anchor="start" textLength="16.4" lengthAdjust="spacingAndGlyphs" >10%</text>
<line x1="312.8" y1="581.6" x2="316.2" y2="581.6" stroke="#231f20" stroke-width="1" />
<text x="298.8" y="584.4" font-size="9.0" fill="#231f20" text-anchor="start" textLength="11.2" lengthAdjust="spacingAndGlyphs" >5%</text>
<line x1="312.8" y1="618" x2="316.2" y2="618" stroke="#231f20" stroke-width="1" />
<text x="298.8" y="620.8" font-size="9.0" fill="#231f20" text-anchor="start" textLength="11.2" lengthAdjust="spacingAndGlyphs" >0%</text>
<line x1="347.7" y1="618.2" x2="347.7" y2="621.8" stroke="#231f20" stroke-width="1" />
<line x1="410.9" y1="618.2" x2="410.9" y2="621.8" stroke="#231f20" stroke-width="1" />
<line x1="474.2" y1="618.2" x2="474.2" y2="621.8" stroke="#231f20" stroke-width="1" />
<text transform="translate(286.5,594.2) rotate(-90)" x="0" y="0" font-size="10.6" fill="#231f20" textLength="102.2" lengthAdjust="spacingAndGlyphs">Murine CD11b bright%</text>
<rect x="327.3" y="586.2" width="41.2" height="31.8" fill="#7aa85b" stroke="#6a9e4c" stroke-width="0.8"/>
<rect x="390.6" y="540.6" width="41.1" height="77.4" fill="#4f6280" stroke="#3d5478" stroke-width="0.8"/>
<rect x="453.5" y="586.2" width="41.8" height="31.8" fill="#a03744" stroke="#982a3c" stroke-width="0.8"/>
<line x1="337.2" y1="583.8" x2="358.2" y2="583.8" stroke="#a8cc98" stroke-width="1.3" />
<line x1="347.7" y1="583.8" x2="347.7" y2="585.8" stroke="#a8cc98" stroke-width="1" />
<line x1="400.5" y1="506.1" x2="421.3" y2="506.1" stroke="#8195b5" stroke-width="1.5" />
<line x1="410.9" y1="506.1" x2="410.9" y2="540.2" stroke="#7d90ad" stroke-width="1.4" />
<line x1="463.8" y1="582" x2="484.9" y2="582" stroke="#b9596a" stroke-width="1.3" />
<line x1="474.2" y1="582" x2="474.2" y2="585.8" stroke="#b04a5c" stroke-width="1.1" />
<path d="M347.2,471.3 L347.2,469.7 L475.7,469.7 L475.7,471.5" fill="none" stroke="#3a3a3a" stroke-width="1.1"/>
<path d="M344.5,500.5 L344.5,496.6 L407.7,496.6 L407.7,500.4" fill="none" stroke="#3a3a3a" stroke-width="1.1"/>
<path d="M413.7,500.4 L413.7,496.6 L477.8,496.6 L477.8,500.4" fill="none" stroke="#3a3a3a" stroke-width="1.1"/>
<text x="389.4" y="463.2" font-size="8.6" fill="#231f20" text-anchor="start" textLength="35.2" lengthAdjust="spacingAndGlyphs" >P=0.9434</text>
<text x="359.7" y="491.3" font-size="8.6" fill="#231f20" text-anchor="start" textLength="34.6" lengthAdjust="spacingAndGlyphs" >P=0.2484</text>
<text x="431.4" y="491.3" font-size="8.6" fill="#231f20" text-anchor="start" textLength="34.8" lengthAdjust="spacingAndGlyphs" >P=0.2478</text>
<rect x="0" y="0" width="520" height="1" fill="#595959"/><rect x="0" y="1" width="520" height="1" fill="#a8a8a8"/>
<rect x="0" y="0" width="2" height="631" fill="#4f4f4f"/>
<rect x="519" y="1" width="1" height="630" fill="#0a0a0a"/>
<rect x="0" y="629" width="520" height="1" fill="#8a8a8a"/><rect x="0" y="630" width="520" height="1" fill="#4a4a4a"/>
</svg>
</body></html>
